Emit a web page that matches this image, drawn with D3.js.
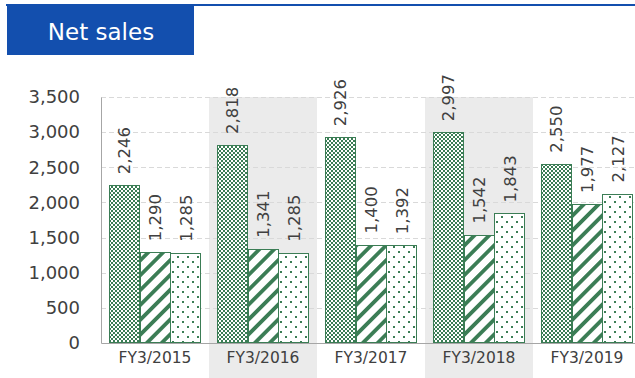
<!DOCTYPE html>
<html>
<head>
<meta charset="utf-8">
<script src="https://cdn.jsdelivr.net/npm/d3@7/dist/d3.min.js"></script>
<style>
  html, body { margin: 0; padding: 0; background: #fff; }
  svg { display: block; font-family: "DejaVu Sans", Verdana, sans-serif; }
</style>
</head>
<body>
<svg id="chart" width="635" height="378"></svg>
<script>
// Net sales by fiscal year, three series per year
const categories = ["FY3/2015", "FY3/2016", "FY3/2017", "FY3/2018", "FY3/2019"];
const seriesChecker = [2246, 2818, 2926, 2997, 2550];
const seriesStripe  = [1290, 1341, 1400, 1542, 1977];
const seriesDotted  = [1285, 1285, 1392, 1843, 2127];
const yTicks = [0, 500, 1000, 1500, 2000, 2500, 3000, 3500];
const shadedCategories = ["FY3/2016", "FY3/2018"];
const titleText = "Net sales";

const series = [
  { key: "checker", values: seriesChecker },
  { key: "stripe",  values: seriesStripe },
  { key: "dotted",  values: seriesDotted }
];

const green = "#3b7d55";
const textColor = "#404040";
const svg = d3.select("#chart");

// fill patterns
const defs = svg.append("defs");
const pChecker = defs.append("pattern").attr("id", "pat-checker")
  .attr("patternUnits", "userSpaceOnUse").attr("width", 4).attr("height", 4);
pChecker.append("rect").attr("width", 4).attr("height", 4).attr("fill", "#fff");
pChecker.append("rect").attr("width", 2).attr("height", 2).attr("fill", green);
pChecker.append("rect").attr("x", 2).attr("y", 2).attr("width", 2).attr("height", 2).attr("fill", green);

const pStripe = defs.append("pattern").attr("id", "pat-stripe")
  .attr("patternUnits", "userSpaceOnUse").attr("width", 10.5).attr("height", 10)
  .attr("patternTransform", "rotate(45)");
pStripe.append("rect").attr("width", 10.5).attr("height", 10).attr("fill", "#fff");
pStripe.append("rect").attr("width", 3.8).attr("height", 10).attr("fill", green);

const pDots = defs.append("pattern").attr("id", "pat-dotted")
  .attr("patternUnits", "userSpaceOnUse").attr("width", 10).attr("height", 10);
pDots.append("rect").attr("width", 10).attr("height", 10).attr("fill", "#fff");
pDots.append("rect").attr("x", 1).attr("y", 1).attr("width", 2).attr("height", 2).attr("fill", green);
pDots.append("rect").attr("x", 6).attr("y", 6).attr("width", 2).attr("height", 2).attr("fill", green);

// header strip and title box
svg.append("rect").attr("x", 6).attr("y", 4).attr("width", 629).attr("height", 2).attr("fill", "#134fae");
svg.append("rect").attr("x", 7).attr("y", 5).attr("width", 187).attr("height", 50).attr("fill", "#134fae");
svg.append("text").attr("x", 101).attr("y", 40).attr("text-anchor", "middle")
  .attr("fill", "#fff").attr("font-size", 23).text(titleText);

// scales
const plotLeft = 101, plotRight = 641, plotTop = 97, plotBottom = 343;
const x = d3.scaleBand().domain(categories).range([plotLeft, plotRight]).padding(0);
const x1 = d3.scaleBand().domain(series.map(s => s.key))
  .range([x.bandwidth() * 0.07, x.bandwidth() * 0.93]).padding(0);
const y = d3.scaleLinear().domain([0, 3500]).range([plotBottom, plotTop]);

// alternating shaded bands
svg.append("g").selectAll("rect").data(shadedCategories).join("rect")
  .attr("x", d => x(d)).attr("y", plotTop)
  .attr("width", x.bandwidth()).attr("height", 378 - plotTop)
  .attr("fill", "#ebebeb");

// gridlines
svg.append("g").selectAll("line").data(yTicks.filter(t => t > 0)).join("line")
  .attr("x1", plotLeft).attr("x2", 635)
  .attr("y1", d => Math.round(y(d)) + 0.5).attr("y2", d => Math.round(y(d)) + 0.5)
  .attr("stroke", "#d9d9d9").attr("stroke-width", 1).attr("stroke-dasharray", "5,3");

// bars
const groups = svg.append("g").selectAll("g").data(categories).join("g")
  .attr("transform", d => `translate(${x(d)},0)`);

groups.each(function(cat, i) {
  const g = d3.select(this);
  series.forEach(s => {
    const v = s.values[i];
    const bx = x1(s.key), bw = x1.bandwidth();
    g.append("rect")
      .attr("x", Math.round(bx) + 0.5).attr("y", Math.round(y(v)) + 0.5)
      .attr("width", Math.round(bw) - 1).attr("height", Math.round(y(0)) - Math.round(y(v)) - 1)
      .attr("fill", `url(#pat-${s.key})`)
      .attr("stroke", green).attr("stroke-width", 1);
    const cx = bx + bw / 2;
    const ty = y(v) - 11;
    g.append("text")
      .attr("transform", `translate(${cx + 6},${ty}) rotate(-90)`)
      .attr("text-anchor", "start")
      .attr("font-size", 16.5).attr("fill", textColor)
      .text(d3.format(",")(v));
  });
});

// y axis
const yAxis = svg.append("g").attr("transform", `translate(${plotLeft},0)`)
  .call(d3.axisLeft(y).tickValues(yTicks).tickFormat(d3.format(",")).tickSize(0).tickPadding(21));
yAxis.select(".domain").attr("stroke", "#a6a6a6");
yAxis.selectAll("text").attr("font-size", 18).attr("fill", textColor)
  .attr("font-family", "DejaVu Sans, Verdana, sans-serif");

// x axis
const xAxis = svg.append("g").attr("transform", `translate(0,${plotBottom})`)
  .call(d3.axisBottom(x).tickSize(0).tickPadding(9));
xAxis.select(".domain").attr("stroke", "#a6a6a6");
xAxis.selectAll("text").attr("font-size", 15.5).attr("fill", textColor)
  .attr("font-family", "DejaVu Sans, Verdana, sans-serif");
</script>
</body>
</html>
